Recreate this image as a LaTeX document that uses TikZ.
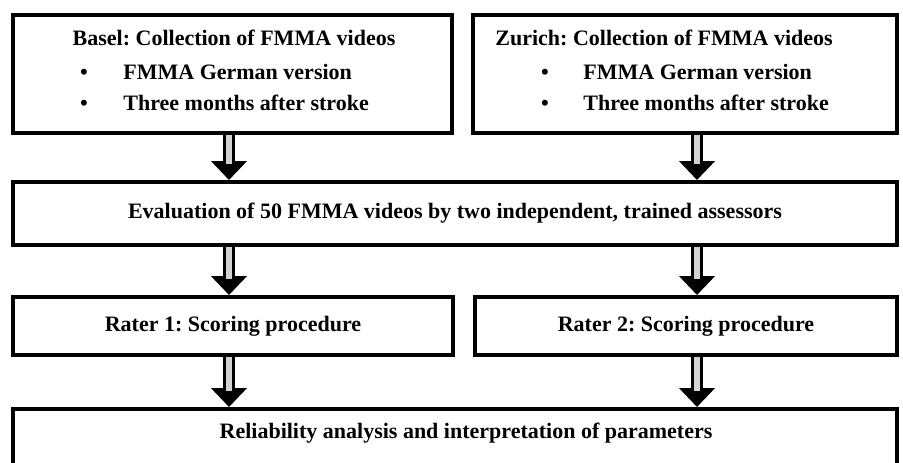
\documentclass[tikz,border=0pt]{standalone}
\usepackage{fontspec}
\setmainfont{Liberation Serif}
\usepackage{tikz}
\usetikzlibrary{arrows.meta}
\frenchspacing

\begin{document}
\begin{tikzpicture}[
    x=0.5pt, y=-0.5pt,
    box/.style={rectangle, draw, line width=2pt, inner sep=0pt},
    txt/.style={font=\bfseries\fontsize{11}{13}\selectfont, inner sep=0pt},
    bigarrow/.style={line width=6pt, -{Triangle[length=9.5pt, width=17.5pt]}},
    stripe/.style={line width=3pt, gray!35}
]
\clip (0,0) rectangle (903,462);
\fill[white] (0,0) rectangle (903,462);

% Collection sites
\node[box, minimum width=219.5pt, minimum height=59pt] (basel) at (232.5,74) {};
\node[txt, anchor=base] (baselhead) at (234,45) {Basel: Collection of FMMA videos};
\node[txt, anchor=base] (baseldot1) at (84,79) {\textbullet};
\node[txt, anchor=base west] (basel1) at (123,79) {FMMA German version};
\node[txt, anchor=base] (baseldot2) at (84,110) {\textbullet};
\node[txt, anchor=base west] (basel2) at (123,110) {Three months after stroke};

\node[box, minimum width=212pt, minimum height=59pt] (zurich) at (685,74) {};
\node[txt, anchor=base west] (zurichhead) at (495,45) {Zurich: Collection of FMMA videos};
\node[txt, anchor=base] (zurichdot1) at (545,79) {\textbullet};
\node[txt, anchor=base west] (zurich1) at (583,79) {FMMA German version};
\node[txt, anchor=base] (zurichdot2) at (545,110) {\textbullet};
\node[txt, anchor=base west] (zurich2) at (583,110) {Three months after stroke};

% Assessment
\node[box, txt, line width=2pt, minimum width=442pt, minimum height=31.5pt] (eval) at (455,213.5)
    {Evaluation of 50 FMMA videos by two independent, trained assessors};

% Raters
\node[box, txt, line width=2pt, minimum width=220pt, minimum height=29pt] (rater1) at (233,326)
    {Rater 1: Scoring procedure};
\node[box, txt, line width=2pt, minimum width=211pt, minimum height=29pt] (rater2) at (686,326)
    {Rater 2: Scoring procedure};

% Analysis
\node[box, anchor=north, minimum width=442pt, minimum height=40pt] (rel) at (455,407) {};
\node[txt, anchor=base] (reltxt) at (466,438) {Reliability analysis and interpretation of parameters};

% Arrow columns
\coordinate (colL) at (229,0);
\coordinate (colR) at (697,0);

\foreach \a/\b/\c in {basel/eval/colL, zurich/eval/colR, eval/rater1/colL,
                      eval/rater2/colR, rater1/rel/colL, rater2/rel/colR} {
    \draw[bigarrow] (\a.south -| \c) -- (\b.north -| \c);
    \draw[stripe] (\a.south -| \c) -- ([yshift=8pt]\b.north -| \c);
}

\end{tikzpicture}
\end{document}
